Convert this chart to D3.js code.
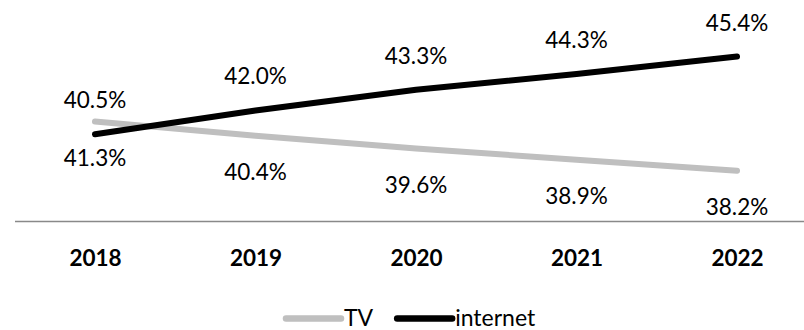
<!DOCTYPE html>
<html>
<head>
<meta charset="utf-8">
<script src="https://cdn.jsdelivr.net/npm/d3@7"></script>
<style>
  html, body { margin: 0; padding: 0; background: #fff; }
  svg { display: block; }
</style>
</head>
<body>
<svg id="chart" width="804" height="330"></svg>
<script>
// Share of advertising spend by medium, 2018–2022
const years = ["2018", "2019", "2020", "2021", "2022"];
const tvValues = [41.3, 40.4, 39.6, 38.9, 38.2];
const internetValues = [40.5, 42.0, 43.3, 44.3, 45.4];
const seriesNames = ["TV", "internet"];
const seriesColors = ["#bfbfbf", "#000000"];

const svg = d3.select("#chart");
const font = "Lato, 'Open Sans', sans-serif";

const x = d3.scalePoint()
  .domain(years)
  .range([95, 737]);

const y = d3.scaleLinear()
  .domain([35, 48])
  .range([221.5, 15.3]);

// Baseline with category labels
svg.append("line")
  .attr("x1", 15).attr("x2", 804)
  .attr("y1", y(35)).attr("y2", y(35))
  .attr("stroke", "#898989")
  .attr("stroke-width", 1.5);

const xAxis = d3.axisBottom(x).tickSize(0).tickPadding(0);
const gx = svg.append("g")
  .attr("transform", `translate(0,${y(35)})`)
  .call(xAxis);
gx.select(".domain").remove();
gx.selectAll("text")
  .attr("dy", null)
  .attr("y", 44)
  .attr("fill", "#000")
  .style("font-family", font)
  .style("font-size", "22.5px")
  .style("font-weight", "bold");

const series = [
  { name: seriesNames[0], values: tvValues, color: seriesColors[0], labelOffset: 44 },
  { name: seriesNames[1], values: internetValues, color: seriesColors[1], labelOffset: -26 }
];

const line = d3.line()
  .x((d, i) => x(years[i]))
  .y(d => y(d));

series.forEach(s => {
  svg.append("path")
    .datum(s.values)
    .attr("d", line)
    .attr("fill", "none")
    .attr("stroke", s.color)
    .attr("stroke-width", 6)
    .attr("stroke-linecap", "round")
    .attr("stroke-linejoin", "round");
});

series.forEach(s => {
  svg.append("g").selectAll("text")
    .data(s.values)
    .join("text")
    .attr("x", (d, i) => x(years[i]))
    .attr("y", d => y(d) + s.labelOffset)
    .attr("text-anchor", "middle")
    .attr("fill", "#000")
    .style("font-family", font)
    .style("font-size", "22.5px")
    .text(d => d.toFixed(1) + "%");
});

// Legend
const legend = svg.append("g").attr("transform", "translate(286,318.5)");
let lx = 0;
series.forEach(s => {
  const g = legend.append("g").attr("transform", `translate(${lx},0)`);
  g.append("line")
    .attr("x1", 0).attr("x2", 55)
    .attr("y1", 0).attr("y2", 0)
    .attr("stroke", s.color)
    .attr("stroke-width", 6.5)
    .attr("stroke-linecap", "round");
  const t = g.append("text")
    .attr("x", 58)
    .attr("y", 7.5)
    .attr("fill", "#000")
    .style("font-family", font)
    .style("font-size", "23px")
    .text(s.name);
  lx += 58 + t.node().getComputedTextLength() + 24;
});
</script>
</body>
</html>
